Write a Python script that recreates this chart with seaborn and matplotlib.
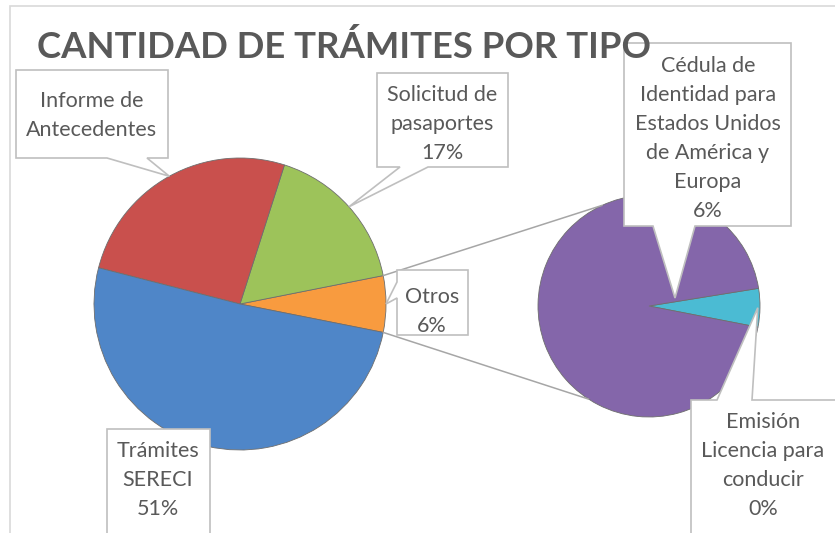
import numpy as np
import matplotlib
matplotlib.use("Agg")
import matplotlib.pyplot as plt
from matplotlib.patches import Polygon, Rectangle
import seaborn as sns

# ---- data ----
main_labels = ["Otros", "Solicitud de pasaportes", "Informe de Antecedentes", "Trámites SERECI"]
main_values = [None, 17.0, 26.0, 51.0]          # Otros = sum of secondary
sec_labels = ["Emisión Licencia para conducir", "Cédula de Identidad para Estados Unidos de América y Europa"]
sec_values = [0.35, 5.9]
main_values[0] = sum(sec_values)
total = sum(main_values)
title = "CANTIDAD DE TRÁMITES POR TIPO"

main_colors = ["#F89B3F", "#9DC35A", "#C9504D", "#4F86C8"]
sec_colors = ["#4BBBD3", "#8466AA"]

sns.set_theme(style="white")
plt.rcParams['font.family'] = ['Lato', 'DejaVu Sans']

W, H = 835, 533
fig = plt.figure(figsize=(W / 100, H / 100), dpi=100)
ax = fig.add_axes([0, 0, 1, 1])
ax.set_facecolor("white")

def Y(y):
    return H - y

TXT = "#595959"
EDGE = "#BFBFBF"

# chart border
ax.add_patch(Rectangle((10, Y(560)), 900, 554, fill=False, ec="#D9D9D9", lw=1.2, zorder=0))

# ---- main pie ----
mc = (240, Y(304)); mr = 146
otros_ang = main_values[0] / total * 360
wedges_m, _ = ax.pie(main_values, colors=main_colors, center=mc, radius=mr,
                     startangle=-otros_ang / 2, counterclock=True,
                     wedgeprops=dict(edgecolor="#6E6E6E", linewidth=0.6), frame=True)

# ---- secondary pie ----
sc = (649, Y(306)); sr = 111
wedges_s, _ = ax.pie(sec_values, colors=sec_colors, center=sc, radius=sr,
                     startangle=-11, counterclock=True,
                     wedgeprops=dict(edgecolor="#6E6E6E", linewidth=0.6), frame=True)

# connector lines
th1 = np.deg2rad(wedges_m[0].theta2); th0 = np.deg2rad(wedges_m[0].theta1)
p_up = (mc[0] + mr * np.cos(th1), mc[1] + mr * np.sin(th1))
p_dn = (mc[0] + mr * np.cos(th0), mc[1] + mr * np.sin(th0))
q_up = (sc[0] + sr * np.cos(np.deg2rad(115)), sc[1] + sr * np.sin(np.deg2rad(115)))
q_dn = (sc[0] + sr * np.cos(np.deg2rad(237)), sc[1] + sr * np.sin(np.deg2rad(237)))
for p, q in [(p_up, q_up), (p_dn, q_dn)]:
    ax.plot([p[0], q[0]], [p[1], q[1]], color="#A6A6A6", lw=1.1, zorder=1)

def mid_edge(w, c, r, f=1.0):
    a = np.deg2rad((w.theta1 + w.theta2) / 2)
    return (c[0] + f * r * np.cos(a), c[1] + f * r * np.sin(a))

def callout(x0, y0, x1, y1, side=None, base=None, tip=None):
    """box in image coords (y down); pointer on side 'bottom','top','left'"""
    if side == "bottom":
        pts = [(x0, y0), (x1, y0), (x1, y1), (base[1], y1), tip, (base[0], y1), (x0, y1)]
    elif side == "top":
        pts = [(x0, y0), (base[0], y0), tip, (base[1], y0), (x1, y0), (x1, y1), (x0, y1)]
    elif side == "left":
        pts = [(x0, y0), (x1, y0), (x1, y1), (x0, y1), (x0, base[1]), tip, (x0, base[0])]
    else:
        pts = [(x0, y0), (x1, y0), (x1, y1), (x0, y1)]
    pts = [(px, Y(py)) for px, py in pts]
    ax.add_patch(Polygon(pts, closed=True, fc="white", ec=EDGE, lw=1.2, zorder=5))

def to_img(p):
    return (p[0], H - p[1])

def lines(cx, y_first, items, step=29):
    for i, s in enumerate(items):
        ax.text(cx, Y(y_first + i * step), s, ha="center", va="center",
                fontsize=15.5, color=TXT, zorder=6)

pct = lambda v: f"{round(v / total * 100):d}%"

# Informe de Antecedentes
tip = to_img(mid_edge(wedges_m[2], mc, mr))
callout(16, 70, 168, 158, "bottom", (107, 147), tip)
lines(92, 101, ["Informe de", "Antecedentes"])

# Solicitud de pasaportes
tip = to_img(mid_edge(wedges_m[1], mc, mr))
callout(377, 73, 508, 167, "bottom", (400, 428), tip)
lines(442, 95, ["Solicitud de", "pasaportes", pct(main_values[1])])

# Otros
tip = to_img(mid_edge(wedges_m[0], mc, mr))
callout(397, 270, 468, 335, "left", (282, 298), tip)
lines(432, 297, ["Otros", pct(main_values[0])])

# Cedula
tip = (675, 298)
callout(624, 43, 791, 226, "bottom", (653, 695), tip)
lines(708, 66, ["Cédula de", "Identidad para", "Estados Unidos", "de América y", "Europa", pct(sec_values[1])])

# Licencia
tip = to_img(mid_edge(wedges_s[0], sc, sr, 0.98))
callout(691, 400, 900, 600, "top", (717, 752), tip)
lines(763, 422, ["Emisión", "Licencia para", "conducir", pct(sec_values[0])])

# SERECI
callout(107, 429, 210, 600)
lines(158, 451, ["Trámites", "SERECI", pct(main_values[3])])

# title
ax.text(37, Y(58), title, ha="left", va="baseline", fontsize=26.3, fontweight="bold",
        color=TXT, zorder=7)

ax.set_xlim(0, W); ax.set_ylim(0, H)
ax.set_aspect("equal")
ax.axis("off")
fig.savefig("out.png", dpi=100, facecolor="white")
